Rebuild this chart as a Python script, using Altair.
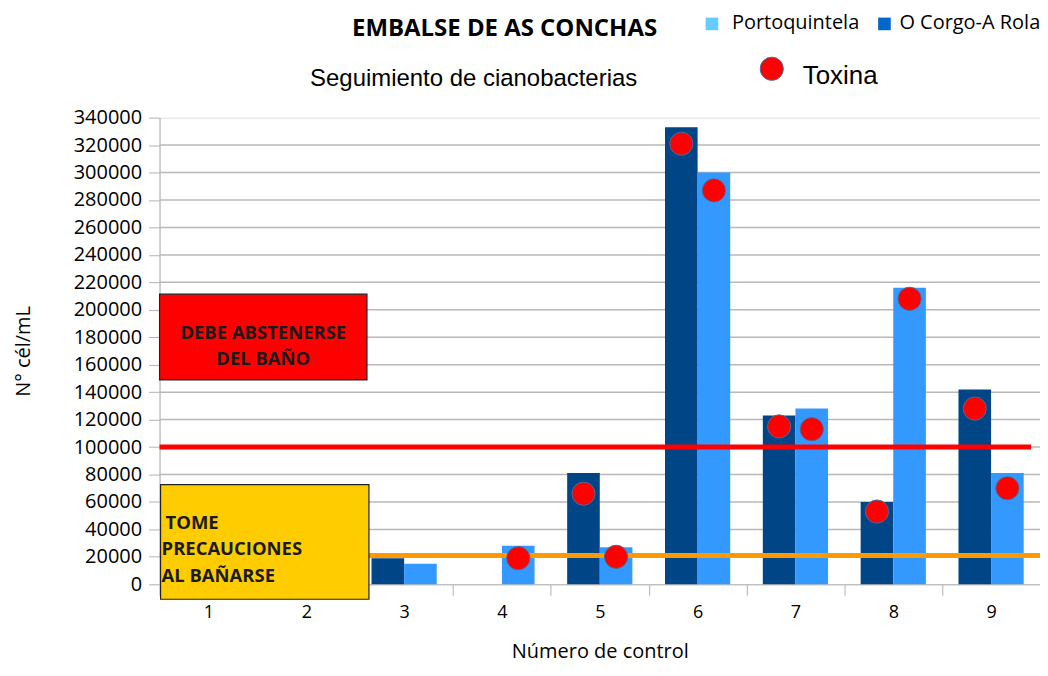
import altair as alt
import pandas as pd

categorias = ["1", "2", "3", "4", "5", "6", "7", "8", "9"]
serie_corgo = "O Corgo-A Rola"
serie_porto = "Portoquintela"
corgo = [0, 0, 19000, 0, 81000, 333000, 123000, 60000, 142000]
porto = [0, 0, 15000, 28000, 27000, 300000, 128000, 216000, 81000]
toxina_corgo = [None, None, None, None, 66000, 321000, 115000, 53000, 128000]
toxina_porto = [None, None, None, 19000, 20000, 287000, 113000, 208000, 70000]
y_ticks = list(range(0, 340001, 20000))
umbral_rojo = 100000
umbral_naranja = 21000

titulo = "EMBALSE DE AS CONCHAS"
subtitulo = "Seguimiento de cianobacterias"
x_titulo = "Número de control"
y_titulo = "N° cél/mL"
texto_rojo = ["DEBE ABSTENERSE", "DEL BAÑO"]
texto_amarillo = [" TOME", "PRECAUCIONES", "AL BAÑARSE"]

rows = []
for c, a, b in zip(categorias, corgo, porto):
    rows.append({"cat": c, "serie": serie_corgo, "v": a})
    rows.append({"cat": c, "serie": serie_porto, "v": b})
bars_df = pd.DataFrame(rows)

trows = []
for c, a, b in zip(categorias, toxina_corgo, toxina_porto):
    if a is not None:
        trows.append({"cat": c, "serie": serie_corgo, "v": a})
    if b is not None:
        trows.append({"cat": c, "serie": serie_porto, "v": b})
tox_df = pd.DataFrame(trows)

W, H = 883, 468
FONT = "Open Sans"

x_axis = alt.Axis(labelAngle=0, tickBand="extent", grid=False,
                  domainColor="#b3b3b3", tickColor="#b3b3b3",
                  tickSize=11, labelPadding=8, labelFontSize=18,
                  labelFont=FONT, labelColor="#000000",
                  titleFont=FONT, titleFontSize=20,
                  titleFontWeight="normal", titleColor="#000000",
                  titlePadding=20)
x_scale = alt.Scale(paddingInner=0, paddingOuter=0)
y_scale = alt.Scale(domain=[0, 340000], nice=False, zero=True)
y_axis = alt.Axis(values=y_ticks, format="d", grid=False,
                  labelOverlap=False,
                  domainColor="#b3b3b3", tickColor="#b3b3b3",
                  tickSize=11, labelPadding=7, labelFontSize=20,
                  labelFont=FONT, labelColor="#000000",
                  titleFont=FONT, titleFontSize=20,
                  titleFontWeight="normal", titleColor="#000000",
                  titlePadding=40)


def X():
    return alt.X("cat:N", sort=categorias, title=x_titulo, scale=x_scale,
                 axis=x_axis)


def Y():
    return alt.Y("v:Q", scale=y_scale, title=y_titulo, axis=y_axis)


xoff = alt.XOffset("serie:N", sort=[serie_corgo, serie_porto],
                   scale=alt.Scale(paddingInner=0, paddingOuter=0.5))
color = alt.Color("serie:N", legend=None,
                  scale=alt.Scale(domain=[serie_corgo, serie_porto],
                                  range=["#004586", "#3399ff"]))

grid_df = pd.DataFrame({"v": y_ticks[1:-1]})
grid = alt.Chart(grid_df).mark_rule(color="#b8b8b8", strokeWidth=1.5).encode(
    y=Y())

bars = alt.Chart(bars_df).mark_bar().encode(
    x=X(), xOffset=xoff, y=Y(), color=color)

red_line = alt.Chart(pd.DataFrame({"v": [umbral_rojo]})).mark_rule(
    color="#ff0000", strokeWidth=5).encode(
    y=Y(), x=alt.value(0), x2=alt.value(874))
orange_line = alt.Chart(pd.DataFrame({"v": [umbral_naranja]})).mark_rule(
    color="#ff9900", strokeWidth=5).encode(
    y=Y(), x=alt.value(0), x2=alt.value(W))

tox = alt.Chart(tox_df).mark_point(
    shape="circle", filled=True, fill="#ff0000", stroke="#4a6a9a",
    strokeWidth=1, size=540, opacity=1).encode(
    x=X(), xOffset=xoff, y=Y())

one = pd.DataFrame({"a": [0]})
red_box = alt.Chart(one).mark_rect(fill="#ff0000", stroke="#222222",
                                   strokeWidth=1.2).encode(
    x=alt.value(0), x2=alt.value(208), y=alt.value(177), y2=alt.value(263))
yellow_box = alt.Chart(one).mark_rect(fill="#ffcc00", stroke="#222222",
                                      strokeWidth=1.2).encode(
    x=alt.value(1), x2=alt.value(210), y=alt.value(368), y2=alt.value(483))


def txt(s, x, y, size, align="left", weight="normal", font=FONT,
        color="#000000"):
    return alt.Chart(pd.DataFrame({"t": [s]})).mark_text(
        align=align, baseline="middle", fontSize=size, fontWeight=weight,
        font=font, color=color).encode(
        text="t:N", x=alt.value(x), y=alt.value(y))


texts = [
    txt(texto_rojo[0], 104, 216, 18.5, "center", "bold", color="#1a1a1a"),
    txt(texto_rojo[1], 104, 242, 18.5, "center", "bold", color="#1a1a1a"),
    txt(texto_amarillo[0], 6, 407, 18.5, "left", "bold", color="#1a1a1a"),
    txt(texto_amarillo[1], 2, 433, 18.5, "left", "bold", color="#1a1a1a"),
    txt(texto_amarillo[2], 2, 460, 18.5, "left", "bold", color="#1a1a1a"),
    txt(titulo, 346, -89, 24, "center", "bold"),
    txt(subtitulo, 315, -39, 24, "center", "normal", font="Liberation Sans"),
    txt(serie_porto, 574, -95, 20, "left"),
    txt(serie_corgo, 742, -95, 20, "left"),
    txt("Toxina", 645, -42, 26, "left", font="Liberation Sans"),
]

leg_sq = alt.Chart(pd.DataFrame({"serie": [serie_porto, serie_corgo],
                                 "px": [554, 727]})).mark_square(
    size=160, opacity=1).encode(
    x=alt.X("px:Q", scale=None), y=alt.value(-94),
    color=alt.Color("serie:N", legend=None,
                    scale=alt.Scale(domain=[serie_porto, serie_corgo],
                                    range=["#66ccff", "#0066cc"])))
leg_tox = alt.Chart(one).mark_point(
    shape="circle", filled=True, fill="#ff0000", stroke="#4a6a9a",
    strokeWidth=1, size=540, opacity=1).encode(
    x=alt.value(614), y=alt.value(-49))

chart = alt.layer(
    grid, bars, red_line, orange_line, tox, red_box, yellow_box,
    *texts, leg_sq, leg_tox
).resolve_scale(color="independent").properties(
    width=W, height=H,
    autosize=alt.AutoSizeParams(type="none"),
    padding={"left": 152, "top": 109, "right": 0, "bottom": 83},
).configure_view(stroke="#c8c8c8", strokeDash=[3, 3]).configure_axisY(
    labelOverlap=False).configure(background="#ffffff")

chart.save("out.html", embed_options={"renderer": "svg", "actions": False})
